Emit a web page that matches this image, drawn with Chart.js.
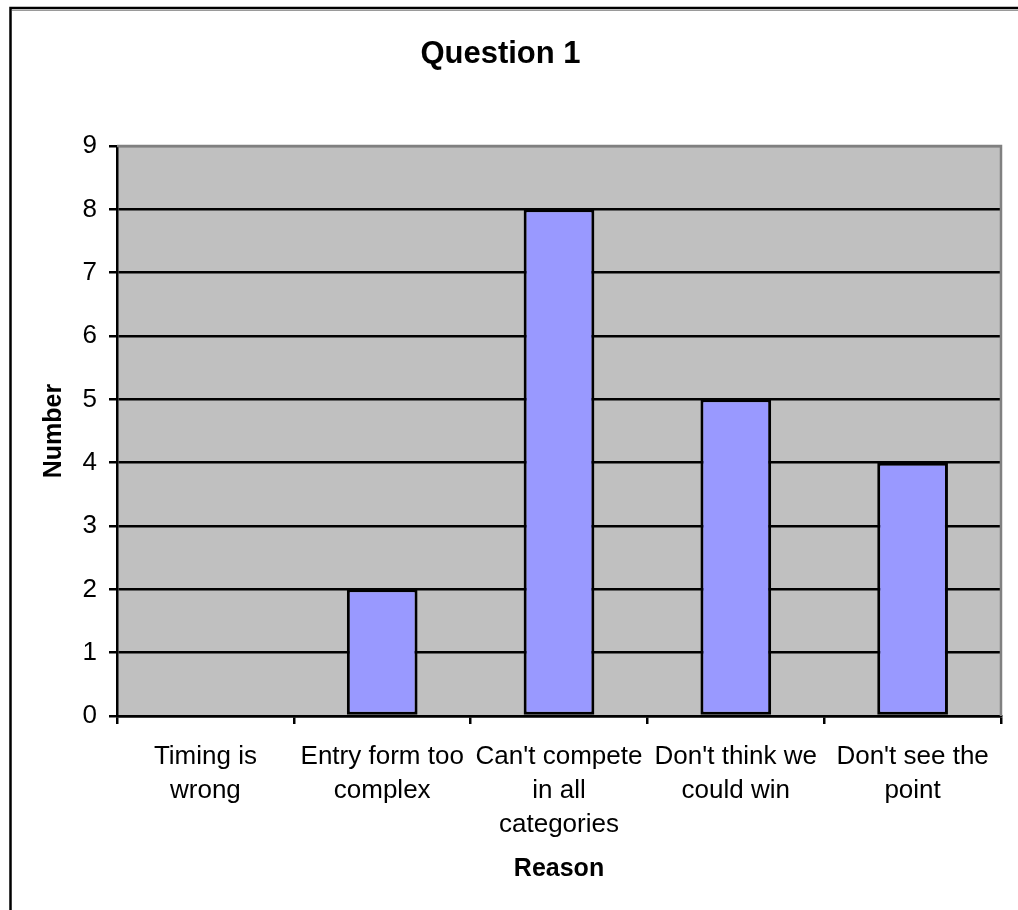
<!DOCTYPE html>
<html>
<head>
<meta charset="utf-8">
<script src="https://cdn.jsdelivr.net/npm/chart.js@4/dist/chart.umd.min.js"></script>
<style>
  html, body { margin: 0; padding: 0; background: #fff; }
  canvas { display: block; }
</style>
</head>
<body>
<canvas id="myChart" width="1018" height="910"></canvas>
<script>
const labels = [
    ['Timing is', 'wrong'],
    ['Entry form too', 'complex'],
    ["Can't compete", 'in all', 'categories'],
    ["Don't think we", 'could win'],
    ["Don't see the", 'point']
];
const counts = [0, 2, 8, 5, 4];
const yMin = 0;
const yMax = 9;

const FONT = 'Liberation Sans, Arial, sans-serif';

// grey plot area, outer frame and the grey top/right edge of the plot
const excelLook = {
    id: 'excelLook',
    beforeDraw(chart) {
        const { ctx, chartArea: a } = chart;
        ctx.save();
        ctx.fillStyle = '#C0C0C0';
        ctx.fillRect(a.left, a.top, a.right - a.left, a.bottom - a.top);
        ctx.restore();
    },
    afterDraw(chart) {
        const { ctx, chartArea: a } = chart;
        ctx.save();
        ctx.strokeStyle = '#808080';
        ctx.lineWidth = 2.5;
        ctx.beginPath();
        ctx.moveTo(a.left, a.top);
        ctx.lineTo(a.right, a.top);
        ctx.lineTo(a.right, a.bottom);
        ctx.stroke();
        // outer chart frame
        ctx.strokeStyle = '#000';
        ctx.lineWidth = 2.5;
        ctx.strokeRect(10.5, 8, 3000, 3000);
        ctx.strokeStyle = '#9a9a9a';
        ctx.lineWidth = 1;
        ctx.beginPath();
        ctx.moveTo(12, 10.5);
        ctx.lineTo(1018, 10.5);
        ctx.stroke();
        ctx.restore();
    }
};

const config = {
    type: 'bar',
    data: {
        labels: labels,
        datasets: [{
            label: 'Question 1',
            data: counts,
            backgroundColor: '#9999FF',
            borderColor: '#000',
            borderWidth: 3,
            borderSkipped: false,
            barPercentage: 0.4,
            categoryPercentage: 1.0
        }]
    },
    options: {
        responsive: false,
        animation: false,
        events: [],
        layout: { padding: { left: 0, right: 17, top: 0, bottom: 0 } },
        plugins: {
            legend: { display: false },
            tooltip: { enabled: false },
            title: {
                display: true,
                text: 'Question 1',
                color: '#000',
                font: { family: FONT, size: 31, weight: 'bold', lineHeight: 1.2 },
                padding: { top: 36, bottom: 72.8 }
            }
        },
        scales: {
            x: {
                grid: {
                    display: true,
                    offset: true,
                    drawOnChartArea: false,
                    drawTicks: true,
                    tickLength: 8,
                    color: '#000',
                    lineWidth: 2.5
                },
                border: { display: true, color: '#000', width: 2.5 },
                ticks: {
                    color: '#000',
                    maxRotation: 0,
                    autoSkip: false,
                    padding: 16,
                    font: { family: FONT, size: 26, lineHeight: 1.3 }
                },
                title: {
                    display: true,
                    text: 'Reason',
                    color: '#000',
                    font: { family: FONT, size: 25, weight: 'bold', lineHeight: 1.2 },
                    padding: { top: 0, bottom: 26 }
                },
                afterFit(scale) { scale.height = 910 - 716; }
            },
            y: {
                min: yMin,
                max: yMax,
                grid: {
                    color: (c) => (c.tick && c.tick.value === yMax ? '#808080' : '#000'),
                    tickColor: '#000',
                    lineWidth: 2.5,
                    tickLength: 8,
                    drawTicks: true
                },
                border: { display: true, color: '#000', width: 2.5 },
                ticks: {
                    stepSize: 1,
                    color: '#000',
                    padding: 12,
                    font: { family: FONT, size: 26 }
                },
                title: {
                    display: true,
                    text: 'Number',
                    color: '#000',
                    font: { family: FONT, size: 25, weight: 'bold', lineHeight: 1.2 },
                    padding: { top: 39, bottom: 0 }
                },
                afterFit(scale) { scale.width = 117; }
            }
        }
    },
    plugins: [excelLook]
};

new Chart(document.getElementById('myChart').getContext('2d'), config);
</script>
</body>
</html>
